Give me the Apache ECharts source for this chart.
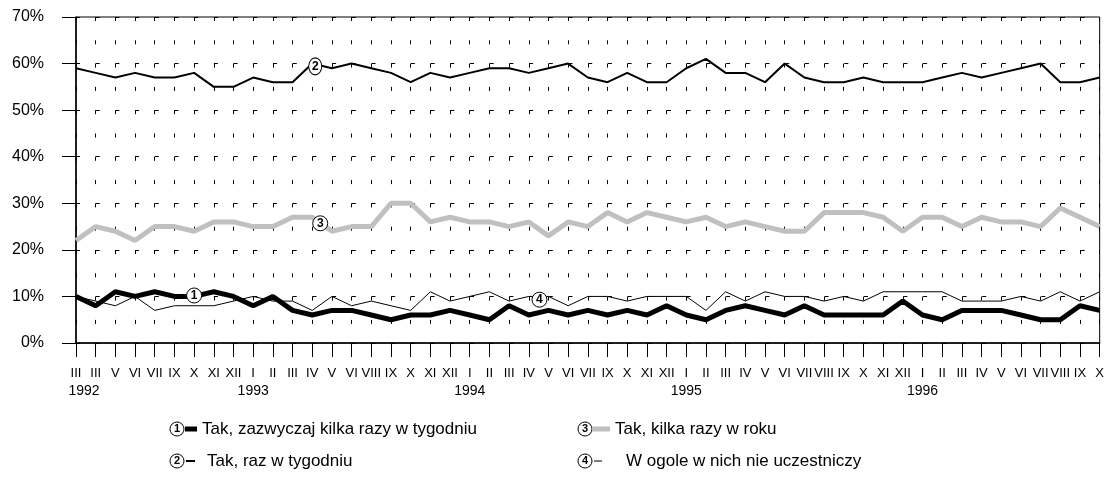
<!DOCTYPE html>
<html>
<head>
<meta charset="utf-8">
<script src="https://cdn.jsdelivr.net/npm/echarts@6/dist/echarts.min.js"></script>
<style>
html, body { margin: 0; padding: 0; background: #fff; }
#chart { width: 1107px; height: 478px; }
</style>
</head>
<body>
<div id="chart"></div>
<script>
// month labels (roman numerals), 1992-III .. 1996-X
const months = [
  'III', 'III', 'V', 'VI', 'VII', 'IX', 'X', 'XI', 'XII',
  'I', 'II', 'III', 'IV', 'V', 'VI', 'VIII', 'IX', 'X', 'XI', 'XII',
  'I', 'II', 'III', 'IV', 'V', 'VI', 'VII', 'IX', 'X', 'XI', 'XII',
  'I', 'II', 'III', 'IV', 'V', 'VI', 'VII', 'VIII', 'IX', 'X', 'XI', 'XII',
  'I', 'II', 'III', 'IV', 'V', 'VI', 'VII', 'VIII', 'IX', 'X'
]
const years = { 0: '1992', 9: '1993', 20: '1994', 31: '1995', 43: '1996' }
const yTicks = [0, 10, 20, 30, 40, 50, 60, 70]

const names = [
  'Tak, zazwyczaj kilka razy w tygodniu',
  'Tak, raz w tygodniu',
  'Tak, kilka razy w roku',
  'W ogole w nich nie uczestniczy'
]

const several = [10, 8, 11, 10, 11, 10, 10, 11, 10, 8, 10, 7, 6, 7, 7, 6, 5, 6, 6, 7, 6, 5, 8, 6, 7, 6, 7,
  6, 7, 6, 8, 6, 5, 7, 8, 7, 6, 8, 6, 6, 6, 6, 9, 6, 5, 7, 7, 7, 6, 5, 5, 8, 7]
const weekly = [59, 58, 57, 58, 57, 57, 58, 55, 55, 57, 56, 56, 60, 59, 60, 59, 58, 56, 58, 57, 58, 59, 59, 58, 59, 60, 57,
  56, 58, 56, 56, 59, 61, 58, 58, 56, 60, 57, 56, 56, 57, 56, 56, 56, 57, 58, 57, 58, 59, 60, 56, 56, 57]
const yearly = [22, 25, 24, 22, 25, 25, 24, 26, 26, 25, 25, 27, 27, 24, 25, 25, 30, 30, 26, 27, 26, 26, 25, 26, 23, 26, 25,
  28, 26, 28, 27, 26, 27, 25, 26, 25, 24, 24, 28, 28, 28, 27, 24, 27, 27, 25, 27, 26, 26, 25, 29, 27, 25]
const never = [10, 9, 8, 10, 7, 8, 8, 8, 9, 10, 9, 9, 7, 10, 8, 9, 8, 7, 11, 9, 10, 11, 9, 10, 10, 8, 10,
  10, 9, 10, 10, 10, 7, 11, 9, 11, 10, 10, 9, 10, 9, 11, 11, 11, 11, 9, 9, 9, 10, 9, 11, 9, 11]

const FONT = 'Liberation Sans, Arial, sans-serif'

const badge = (num, coord, offset, size) => ({
  symbol: 'circle',
  symbolSize: size || 15,
  symbolOffset: offset || [0, 0],
  itemStyle: { color: '#fff', borderColor: '#000', borderWidth: 1 },
  label: { show: true, formatter: num, color: '#000', fontWeight: 'bold', fontSize: 12, fontFamily: FONT },
  data: [{ coord: coord }]
})

const legendItem = (name, left, top, w, h, extra) => ({
  data: [name],
  left: left,
  top: top,
  padding: 0,
  selectedMode: false,
  icon: 'rect',
  itemWidth: w,
  itemHeight: h,
  textStyle: Object.assign({ fontSize: 17, fontFamily: FONT, color: '#000', lineHeight: 20 }, extra || {})
})

const badgeGraphic = (num, x, y) => ({
  type: 'group',
  x: x,
  y: y,
  children: [
    { type: 'circle', shape: { cx: 0, cy: 0, r: 7 }, style: { fill: '#fff', stroke: '#000', lineWidth: 1 } },
    { type: 'text', style: { text: num, x: 0, y: 0, align: 'center', verticalAlign: 'middle',
      font: 'bold 11px ' + FONT, fill: '#000' } }
  ]
})

const chart = echarts.init(document.getElementById('chart'))
chart.setOption({
  animation: false,
  backgroundColor: '#fff',
  grid: { left: 76, right: 6, top: 17, bottom: 135, show: true, borderColor: '#000', borderWidth: 1 },
  legend: [
    legendItem(names[0], 185, 419, 12, 5),
    legendItem(names[1], 186, 451, 9, 2, { padding: [0, 0, 0, 7] }),
    legendItem(names[2], 592, 419, 18, 5),
    legendItem(names[3], 594, 451, 8, 1, { padding: [0, 0, 0, 19] })
  ],
  graphic: [
    badgeGraphic('1', 177, 429),
    badgeGraphic('2', 177, 461),
    badgeGraphic('3', 585, 429),
    badgeGraphic('4', 585, 461)
  ],
  xAxis: {
    type: 'category',
    data: months,
    boundaryGap: false,
    axisLine: { lineStyle: { color: '#000', width: 1.5 } },
    axisTick: { interval: 0, length: 14, lineStyle: { color: '#000' } },
    axisLabel: {
      interval: 0,
      margin: 23,
      color: '#000',
      fontSize: 13,
      fontFamily: FONT,
      lineHeight: 14,
      formatter: (val, idx) => years[idx] ? val + '\n{' + (idx === 0 ? 'y0' : 'y') + '|' + years[idx] + '}' : val,
      rich: {
        y: { fontSize: 14, fontFamily: FONT, color: '#000', lineHeight: 22 },
        y0: { fontSize: 14, fontFamily: FONT, color: '#000', lineHeight: 22, padding: [0, 0, 0, 16] }
      }
    },
    splitLine: { show: true, interval: 0, lineStyle: { color: '#000', width: 1, type: [4, 19.3] } }
  },
  yAxis: {
    type: 'value',
    min: yTicks[0],
    max: yTicks[yTicks.length - 1],
    interval: 10,
    axisLine: { show: true, lineStyle: { color: '#000', width: 1.5 } },
    axisTick: { show: true, length: 14, lineStyle: { color: '#000' } },
    axisLabel: { formatter: '{value}%', color: '#000', fontSize: 16, fontFamily: FONT, margin: 32 },
    splitLine: { show: true, lineStyle: { color: '#000', width: 1, type: [4, 15.7], dashOffset: 0 } }
  },
  series: [
    {
      name: names[3], type: 'line', data: never, symbol: 'none', z: 2,
      lineStyle: { color: '#000', width: 1 }, itemStyle: { color: '#000' },
      markPoint: badge('4', [24, 9.3], [-9, 0])
    },
    {
      name: names[2], type: 'line', data: yearly, symbol: 'none', z: 3,
      lineStyle: { color: '#c0c0c0', width: 5 }, itemStyle: { color: '#c0c0c0' },
      markPoint: badge('3', [12, 25.7], [8, 0])
    },
    {
      name: names[1], type: 'line', data: weekly, symbol: 'none', z: 3,
      lineStyle: { color: '#000', width: 2 }, itemStyle: { color: '#000' },
      markPoint: badge('2', [12, 59.4], [3, 0], [13, 17])
    },
    {
      name: names[0], type: 'line', data: several, symbol: 'none', z: 4,
      lineStyle: { color: '#000', width: 5 }, itemStyle: { color: '#000' },
      markPoint: badge('1', [6, 10.2], [0, 0])
    }
  ]
})
</script>
</body>
</html>
